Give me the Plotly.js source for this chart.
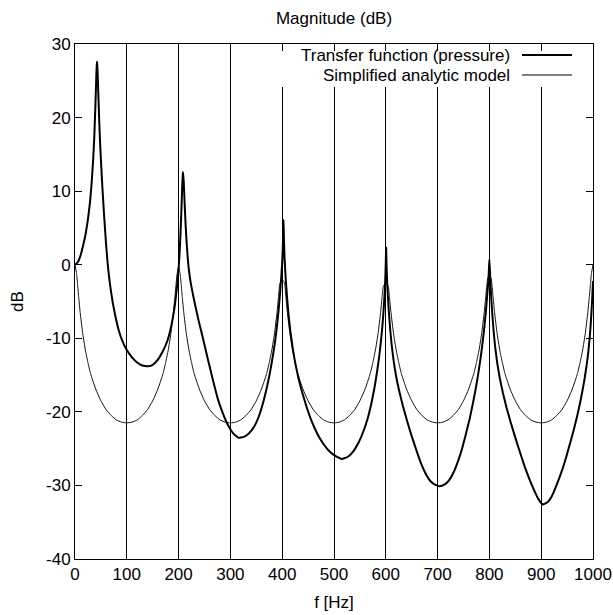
<!DOCTYPE html>
<html><head><meta charset="utf-8">
<script src="https://cdn.plot.ly/plotly-3.0.1.min.js"></script>
<style>html,body{margin:0;padding:0;background:#fff}#chart{width:613px;height:615px}</style>
</head><body><div id="chart"></div>
<script>
const xTickVals = [0,100,200,300,400,500,600,700,800,900,1000];
const yTickVals = [-40,-30,-20,-10,0,10,20,30];
const seriesNames = ["Transfer function (pressure)", "Simplified analytic model"];

const transferFreq = [
 0,5,10,15,20,25,29,32,35,37,
 38.6,40,41.2,42,42.5,43,43.8,45,46.3,48,
 50,52,54,56,58,60,62,64,66,69,
 73,78,84,90,100,110,120,130,141,150,
 160,170,178,184,189,193,196,198.5,200.5,202.5,
 204,205.5,206.8,207.8,208.5,210,211.5,213,214.5,216,
 218,220,223,227,232,239,247,256,266,276,
 286,296,305,315,326,336,346,355,363,370,
 376,381,385.5,389.5,393,396,398.5,400.5,401.7,402.5,
 403.3,404.5,406.5,409,412,415.5,420,425,431,438,
 447,457,468,480,493,505,515,527,538,548,
 557,565,572,578,583,587,590.5,593.5,596,598,
 599.3,600.1,600.6,601.4,602.5,604,606,608.5,611.5,615,
 620,626,633,641,650,659,668,677,686,695,
 704,713,722,731,740,748,755,762,768,773.5,
 778.5,783,787,790.5,793.5,796,798,799.2,800,800.8,
 802,803.5,805.5,808,811,815,820,826,833,841,
 850,859,868,877,886,895,903,912,921,930,
 939,948,956,963,969,975,980,984,988,991,
 993.5,995.5,997,998.3,999.3,1000];
const transferDb = [
 0,0.3,1.1,2.4,4.0,6.2,8.5,11,14.2,17,
 20,23,25.8,27.1,27.6,27.1,25.8,23.3,20.5,17.3,
 14.3,11.6,9.2,6.9,4.8,2.8,1.0,-0.5,-1.8,-3.4,
 -5.2,-7,-8.8,-10.1,-11.6,-12.6,-13.3,-13.7,-13.8,-13.6,
 -12.9,-11.7,-10.4,-8.9,-7.2,-5.4,-3.6,-1.8,0,2.4,
 4.8,7.6,10.3,12,12.6,11.2,8.6,6.2,4.2,2.5,
 0.6,-0.8,-2.3,-3.8,-5.5,-7.7,-10,-12.7,-15.6,-18.3,
 -20.3,-21.9,-22.9,-23.5,-23.4,-22.9,-22.0,-20.6,-18.8,-16.8,
 -14.8,-12.8,-10.8,-8.6,-6.2,-3.8,-1.4,1.0,3.6,6.1,
 3.6,1.0,-1.6,-4.1,-6.6,-8.9,-11.2,-13.3,-15.3,-17.2,
 -19.3,-21.3,-23.0,-24.4,-25.5,-26.1,-26.4,-26.1,-25.3,-24.1,
 -22.6,-20.9,-18.9,-16.8,-14.6,-12.6,-10.5,-8.3,-5.9,-3.6,
 -1.3,0.8,2.3,0,-2.2,-4.3,-6.5,-8.8,-11,-13,
 -15.2,-17.2,-19.2,-21.2,-23.3,-25.2,-27,-28.4,-29.4,-29.9,
 -30.1,-29.9,-29.3,-28.2,-26.6,-24.8,-22.9,-20.9,-18.9,-16.9,
 -14.8,-12.7,-10.5,-8.3,-6.1,-3.9,-2.2,-0.4,0.7,-0.6,
 -2.4,-4.4,-6.6,-8.9,-11.1,-13.3,-15.4,-17.4,-19.4,-21.4,
 -23.5,-25.5,-27.4,-29.1,-30.6,-31.9,-32.6,-32.3,-31.4,-29.9,
 -28.2,-26.2,-24.2,-22.4,-20.7,-18.8,-17,-15.4,-13.5,-11.8,
 -10,-8.2,-6.5,-4.8,-3.3,-2.2];

const modelFreq = [
 0,3,5,7,10,15,20,25,30,40,50,60,70,80,90,100,110,120,130,140,150,160,170,175,180,185,190,193,195,197,
 200,203,205,207,210,215,220,225,230,240,250,260,270,280,290,300,310,320,330,340,350,360,370,375,380,385,390,393,395,397,
 400,403,405,407,410,415,420,425,430,440,450,460,470,480,490,500,510,520,530,540,550,560,570,575,580,585,590,593,595,597,
 600,603,605,607,610,615,620,625,630,640,650,660,670,680,690,700,710,720,730,740,750,760,770,775,780,785,790,793,795,797,
 800,803,805,807,810,815,820,825,830,840,850,860,870,880,890,900,910,920,930,940,950,960,970,975,980,985,990,993,995,997,
 1000];
const modelDb = [
 0,-1.2,-2.7,-4.3,-6.5,-9.4,-11.6,-13.3,-14.8,-16.9,-18.5,-19.7,-20.5,-21.1,-21.4,-21.5,-21.4,-21.1,-20.5,-19.7,-18.5,-16.9,-14.8,-13.3,-11.6,-9.4,-6.5,-4.3,-2.7,-1.3,
 -0.3,-1.3,-2.7,-4.3,-6.5,-9.4,-11.6,-13.3,-14.8,-16.9,-18.5,-19.7,-20.5,-21.1,-21.4,-21.5,-21.4,-21.1,-20.5,-19.7,-18.5,-16.9,-14.8,-13.3,-11.6,-9.4,-6.5,-4.3,-2.7,-2.3,
 -2.0,-2.3,-2.7,-4.3,-6.5,-9.4,-11.6,-13.3,-14.8,-16.9,-18.5,-19.7,-20.5,-21.1,-21.4,-21.5,-21.4,-21.1,-20.5,-19.7,-18.5,-16.9,-14.8,-13.3,-11.6,-9.4,-6.5,-4.3,-3.0,-2.7,
 -2.6,-2.7,-3.0,-4.3,-6.5,-9.4,-11.6,-13.3,-14.8,-16.9,-18.5,-19.7,-20.5,-21.1,-21.4,-21.5,-21.4,-21.1,-20.5,-19.7,-18.5,-16.9,-14.8,-13.3,-11.6,-9.4,-6.5,-4.3,-2.8,-1.8,
 -1.6,-1.8,-2.8,-4.3,-6.5,-9.4,-11.6,-13.3,-14.8,-16.9,-18.5,-19.7,-20.5,-21.1,-21.4,-21.5,-21.4,-21.1,-20.5,-19.7,-18.5,-16.9,-14.8,-13.3,-11.6,-9.4,-6.5,-4.3,-2.7,-1.2,
 0];

const FONT = 'Liberation Sans, Arial, Helvetica, sans-serif';

const traces = [
  {x: modelFreq, y: modelDb, type: 'scatter', mode: 'lines', name: seriesNames[1],
   line: {color: '#111', width: 1, shape: 'spline', smoothing: 0.4}, showlegend: false, hoverinfo: 'skip'},
  {x: transferFreq, y: transferDb, type: 'scatter', mode: 'lines', name: seriesNames[0],
   line: {color: '#000', width: 2, shape: 'spline', smoothing: 0.4}, showlegend: false, hoverinfo: 'skip'}
];

// key (gnuplot style: text on the left, sample on the right)
const keyTextX = 0.8436, keyRowY = [0.9786, 0.9398], keySample = [0.863, 0.9595];
const layout = {
  width: 613, height: 615,
  margin: {l: 75, r: 20, t: 44, b: 56},
  paper_bgcolor: '#fff', plot_bgcolor: '#fff',
  font: {family: FONT, size: 17, color: '#000'},
  title: {text: 'Magnitude (dB)', font: {family: FONT, size: 17, color: '#000'},
          x: 0.5, xref: 'paper', xanchor: 'center', y: 1 - 18/615, yref: 'container', yanchor: 'middle'},
  xaxis: {range: [0, 1000], tickvals: xTickVals, ticktext: xTickVals.map(String),
          ticks: 'inside', ticklen: 7, tickcolor: '#000', tickwidth: 1,
          showgrid: true, gridcolor: '#000', gridwidth: 1,
          showline: true, linecolor: '#000', linewidth: 1, mirror: 'ticks', zeroline: false,
          tickfont: {family: FONT, size: 17, color: '#000'},
          title: {text: 'f [Hz]', font: {family: FONT, size: 17, color: '#000'}, standoff: 12}},
  yaxis: {range: [-40, 30], tickvals: yTickVals, ticktext: yTickVals.map(String),
          ticks: 'inside', ticklen: 7, tickcolor: '#000', tickwidth: 1,
          showgrid: false, showline: true, linecolor: '#000', linewidth: 1, mirror: 'ticks', zeroline: false,
          tickfont: {family: FONT, size: 17, color: '#000'},
          title: {text: 'dB', font: {family: FONT, size: 17, color: '#000'}, standoff: 18}},
  shapes: [
    {type: 'rect', xref: 'paper', yref: 'paper', x0: 0.33, x1: 0.997, y0: 0.9165, y1: 0.9864,
     fillcolor: '#fff', line: {width: 0}, layer: 'above'},
    {type: 'line', xref: 'paper', yref: 'paper', x0: keySample[0], x1: keySample[1], y0: keyRowY[0], y1: keyRowY[0],
     line: {color: '#000', width: 2}, layer: 'above'},
    {type: 'line', xref: 'paper', yref: 'paper', x0: keySample[0], x1: keySample[1], y0: keyRowY[1], y1: keyRowY[1],
     line: {color: '#000', width: 1}, layer: 'above'}
  ],
  annotations: seriesNames.map((n, i) => ({
    text: n, xref: 'paper', yref: 'paper', x: keyTextX, y: keyRowY[i],
    xanchor: 'right', yanchor: 'middle', showarrow: false,
    font: {family: FONT, size: 17, color: '#000'}
  }))
};

Plotly.newPlot('chart', traces, layout, {displayModeBar: false, staticPlot: true});
</script>
</body></html>
